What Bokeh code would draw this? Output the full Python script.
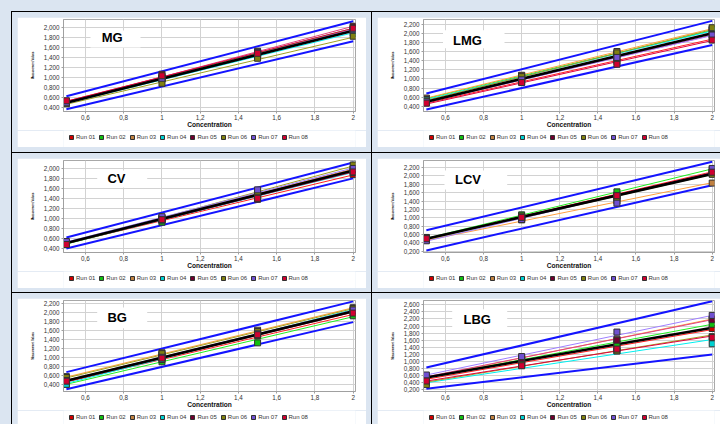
from bokeh.plotting import figure
from bokeh.models import FixedTicker, Legend, LegendItem, Label, Range1d, GridBox, BoxAnnotation
from bokeh.layouts import column
from bokeh.embed import file_html
from bokeh.resources import INLINE

# ---------------- data ----------------
RUNS = ["Run 01", "Run 02", "Run 03", "Run 04", "Run 05", "Run 06", "Run 07", "Run 08"]
CONC = [0.5, 1.0, 1.5, 2.0]
LINE_X = [0.5, 2.0]

X_TICKS = [0.6, 0.8, 1.0, 1.2, 1.4, 1.6, 1.8, 2.0]
X_TICK_LABELS = ["0,6", "0,8", "1", "1,2", "1,4", "1,6", "1,8", "2"]

Y_TICKS_20 = [0.4, 0.6, 0.8, 1.0, 1.2, 1.4, 1.6, 1.8, 2.0]
Y_LABELS_20 = ["0,400", "0,600", "0,800", "1,000", "1,200", "1,400", "1,600", "1,800", "2,000"]
Y_TICKS_22 = [0.4, 0.6, 0.8, 1.0, 1.2, 1.4, 1.6, 1.8, 2.0, 2.2]
Y_LABELS_22 = ["0,400", "0,600", "0,800", "1,000", "1,200", "1,400", "1,600", "1,800", "2,000", "2,200"]
Y_TICKS_LCV = [0.2, 0.4, 0.6, 0.8, 1.0, 1.2, 1.4, 1.6, 1.8, 2.0, 2.2]
Y_LABELS_LCV = ["0,200", "0,400", "0,600", "0,800", "1,000", "1,200", "1,400", "1,600", "1,800", "2,000", "2,200"]
Y_TICKS_LBG = [0.2, 0.4, 0.6, 0.8, 1.0, 1.2, 1.4, 1.6, 1.8, 2.0, 2.2, 2.4, 2.6]
Y_LABELS_LBG = ["0,200", "0,400", "0,600", "0,800", "1,000", "1,200", "1,400", "1,600", "1,800",
                "2,000", "2,200", "2,400", "2,600"]

# MG
MG_POINTS = [[0.52, 1.06, 1.47, 2.02], [0.50, 0.99, 1.47, 1.97], [0.50, 0.97, 1.52, 1.93],
             [0.48, 0.96, 1.43, 1.88], [0.51, 1.00, 1.50, 2.00], [0.47, 0.88, 1.38, 1.82],
             [0.49, 0.98, 1.50, 1.95], [0.53, 1.03, 1.48, 1.98]]
MG_FITS = [[0.52, 1.96], [0.49, 1.98], [0.49, 1.95], [0.48, 1.89],
           [0.50, 2.02], [0.46, 1.80], [0.48, 1.96], [0.52, 1.98]]
MG_MEAN = [0.49, 1.93]
MG_UPPER = [0.62, 2.12]
MG_LOWER = [0.36, 1.72]

# LMG
LMG_POINTS = [[0.48, 0.93, 1.38, 1.86], [0.57, 1.07, 1.55, 2.07], [0.58, 1.08, 1.60, 2.10],
              [0.55, 1.03, 1.53, 2.08], [0.50, 0.97, 1.45, 1.97], [0.52, 1.05, 1.57, 2.12],
              [0.50, 0.98, 1.47, 1.96], [0.47, 0.92, 1.32, 1.85]]
LMG_FITS = [[0.47, 1.87], [0.57, 2.06], [0.58, 2.10], [0.55, 2.05],
            [0.49, 1.96], [0.53, 2.08], [0.49, 1.95], [0.45, 1.84]]
LMG_MEAN = [0.50, 2.00]
LMG_UPPER = [0.68, 2.27]
LMG_LOWER = [0.33, 1.74]

# CV
CV_POINTS = [[0.48, 0.95, 1.38, 1.88], [0.50, 0.92, 1.45, 1.95], [0.52, 0.98, 1.50, 1.99],
             [0.49, 0.96, 1.44, 1.92], [0.51, 1.00, 1.48, 1.97], [0.50, 1.01, 1.53, 2.07],
             [0.53, 1.03, 1.57, 2.00], [0.47, 0.97, 1.40, 1.93]]
CV_FITS = [[0.49, 1.87], [0.48, 1.95], [0.50, 1.99], [0.49, 1.92],
           [0.50, 1.97], [0.49, 2.05], [0.52, 2.01], [0.49, 1.93]]
CV_MEAN = [0.50, 1.96]
CV_UPPER = [0.61, 2.12]
CV_LOWER = [0.39, 1.80]

# LCV
LCV_POINTS = [[0.52, 1.00, 1.55, 2.10], [0.50, 1.07, 1.62, 2.16], [0.47, 0.95, 1.40, 1.83],
              [0.49, 1.02, 1.52, 2.08], [0.53, 0.98, 1.50, 2.05], [0.48, 1.04, 1.47, 2.04],
              [0.45, 0.96, 1.35, 2.18], [0.50, 1.01, 1.53, 2.09]]
LCV_FITS = [[0.50, 2.10], [0.51, 2.17], [0.46, 1.84], [0.49, 2.06],
            [0.50, 2.05], [0.48, 2.04], [0.44, 2.08], [0.50, 2.08]]
LCV_MEAN = [0.50, 2.05]
LCV_UPPER = [0.70, 2.34]
LCV_LOWER = [0.22, 1.78]

# BG
BG_POINTS = [[0.46, 1.00, 1.48, 1.94], [0.40, 0.90, 1.32, 1.92], [0.57, 1.10, 1.60, 2.10],
             [0.40, 0.95, 1.50, 2.05], [0.50, 1.05, 1.55, 2.02], [0.55, 1.08, 1.57, 2.08],
             [0.48, 1.00, 1.52, 2.05], [0.47, 0.98, 1.50, 1.98]]
BG_FITS = [[0.45, 1.95], [0.40, 1.90], [0.56, 2.10], [0.42, 2.06],
           [0.49, 2.03], [0.54, 2.08], [0.48, 2.04], [0.47, 2.00]]
BG_MEAN = [0.48, 2.02]
BG_UPPER = [0.67, 2.24]
BG_LOWER = [0.29, 1.78]

# LBG
LBG_POINTS = [[0.50, 0.95, 1.40, 1.93], [0.55, 1.05, 1.50, 2.05], [0.55, 1.10, 1.63, 2.20],
              [0.40, 0.90, 1.30, 1.50], [0.58, 1.08, 1.60, 2.18], [0.35, 0.92, 1.30, 1.70],
              [0.62, 1.14, 1.83, 2.30], [0.45, 0.88, 1.35, 1.68]]
LBG_FITS = [[0.50, 1.90], [0.55, 2.05], [0.55, 2.20], [0.40, 1.62],
            [0.57, 2.18], [0.42, 1.75], [0.62, 2.30], [0.45, 1.72]]
LBG_MEAN = [0.55, 1.95]
LBG_UPPER = [0.83, 2.70]
LBG_LOWER = [0.235, 1.20]

# ---------------- style ----------------
BG_BLUE = "#dbe5f1"
FONT = "Liberation Sans"
LINE_COLORS = ["#ff2020", "#22ee22", "#ffa040", "#00f0f0", "#e04080", "#a0a020", "#a080ff", "#e00040"]
MARK_COLORS = ["#d00000", "#10c010", "#c08040", "#00d0d0", "#700030", "#808010", "#7050d0", "#d00030"]
X_LO, X_HI = 0.485, 2.012


def make_plot(title, points, fits, mean, upper, lower, y_lo, y_hi, y_ticks, y_labels,
              width, height, right_b, frame_h, box, text_xy):
    p = figure(width=width, height=height, output_backend="svg", toolbar_location=None,
               x_range=Range1d(X_LO, X_HI), y_range=Range1d(y_lo, y_hi),
               min_border_left=46, min_border_right=right_b, min_border_top=2,
               min_border_bottom=height - 2 - frame_h)
    p.border_fill_color = "white"
    p.background_fill_color = "white"
    p.outline_line_color = "#a8a8a8"

    for ax in (p.xaxis[0], p.yaxis[0]):
        ax.axis_line_color = "#a0a0a0"
        ax.major_tick_line_color = "#a0a0a0"
        ax.minor_tick_line_color = None
        ax.major_tick_in = 0
        ax.major_tick_out = 2
        ax.major_label_text_font = FONT
        ax.major_label_text_font_size = "6.3px"
        ax.major_label_text_color = "#333333"
        ax.axis_label_text_font = FONT
        ax.axis_label_text_font_style = "bold"
        ax.axis_label_text_color = "#111111"

    p.xaxis.ticker = FixedTicker(ticks=X_TICKS)
    p.xaxis.major_label_overrides = dict(zip(X_TICKS, X_TICK_LABELS))
    p.xaxis.major_label_standoff = 1
    p.xaxis.axis_label = "Concentration"
    p.xaxis.axis_label_text_font_size = "6.6px"
    p.xaxis.axis_label_standoff = -2

    p.yaxis.ticker = FixedTicker(ticks=y_ticks)
    p.yaxis.major_label_overrides = dict(zip(y_ticks, y_labels))
    p.yaxis.major_label_standoff = 2
    p.yaxis.axis_label = "Measurement Values"
    p.yaxis.axis_label_text_font_size = "2.8px"
    p.yaxis.axis_label_standoff = 7

    p.xgrid.ticker = FixedTicker(ticks=X_TICKS)
    p.ygrid.ticker = FixedTicker(ticks=y_ticks)
    p.xgrid.grid_line_color = "#d2d2d2"
    p.ygrid.grid_line_color = "#d2d2d2"

    for i in range(len(RUNS)):
        p.line(LINE_X, fits[i], line_color=LINE_COLORS[i], line_width=1)
    p.line(LINE_X, mean, line_color="black", line_width=2.6)
    p.line(LINE_X, upper, line_color="#1414ff", line_width=2)
    p.line(LINE_X, lower, line_color="#1414ff", line_width=2)
    for i in range(len(RUNS)):
        p.scatter(CONC, points[i], marker="square", size=6,
                  fill_color=MARK_COLORS[i], line_color="#303030", line_width=1)

    # white title box (frame-relative screen units: y measured from frame bottom)
    bl, br, bt, bb = box
    p.add_layout(BoxAnnotation(left=bl, right=br, top=frame_h - bt, bottom=frame_h - bb,
                               left_units="screen", right_units="screen",
                               top_units="screen", bottom_units="screen",
                               fill_color="white", fill_alpha=1.0, line_alpha=0))
    p.add_layout(Label(x=text_xy[0], y=frame_h - text_xy[1], x_units="screen", y_units="screen",
                       text=title, text_font=FONT, text_font_style="bold",
                       text_font_size="13px", text_color="black",
                       text_align="center", text_baseline="middle"))
    return p


def make_legend(points, width, height, y_off):
    # legend strip below each chart; its renderers sit outside the strip's visible range
    lf = figure(width=width, height=height, output_backend="svg", toolbar_location=None,
                x_range=Range1d(10, 11), y_range=Range1d(10, 11),
                x_axis_location=None, y_axis_location=None,
                min_border_left=0, min_border_right=0, min_border_top=0, min_border_bottom=0)
    lf.grid.visible = False
    lf.outline_line_color = None
    lf.border_fill_color = "white"
    lf.background_fill_color = "white"
    items = []
    for i in range(len(RUNS)):
        r = lf.scatter(CONC, points[i], marker="square", size=6,
                       fill_color=MARK_COLORS[i], line_color="#303030", line_width=1)
        items.append(LegendItem(label=RUNS[i], renderers=[r]))
    leg = Legend(items=items, orientation="horizontal", location=(3, y_off),
                 glyph_width=10, glyph_height=10, label_standoff=0, spacing=1,
                 padding=0, margin=0, label_height=6, label_width=6,
                 label_text_font=FONT, label_text_font_size="6px", label_text_color="#333333",
                 border_line_alpha=0, background_fill_alpha=0)
    lf.add_layout(leg, "center")
    return lf


p_mg = make_plot("MG", MG_POINTS, MG_FITS, MG_MEAN, MG_UPPER, MG_LOWER, 0.316, 2.155,
                 Y_TICKS_20, Y_LABELS_20, 349, 113, 11, 95,
                 (27, 77, 14, 31), (48.7, 21))
p_lmg = make_plot("LMG", LMG_POINTS, LMG_FITS, LMG_MEAN, LMG_UPPER, LMG_LOWER, 0.287, 2.30,
                  Y_TICKS_22, Y_LABELS_22, 343, 113, 6, 95,
                  (19.5, 81, 13.7, 31.7), (44, 24))
p_cv = make_plot("CV", CV_POINTS, CV_FITS, CV_MEAN, CV_UPPER, CV_LOWER, 0.31, 2.16,
                 Y_TICKS_20, Y_LABELS_20, 349, 113, 11, 95,
                 (33.7, 83.7, 13, 30), (53, 21.3))
p_lcv = make_plot("LCV", LCV_POINTS, LCV_FITS, LCV_MEAN, LCV_UPPER, LCV_LOWER, 0.17, 2.37,
                  Y_TICKS_LCV, Y_LABELS_LCV, 343, 113, 6, 95,
                  (21, 83.7, 13, 32), (44.5, 22.3))
p_bg = make_plot("BG", BG_POINTS, BG_FITS, BG_MEAN, BG_UPPER, BG_LOWER, 0.24, 2.26,
                 Y_TICKS_22, Y_LABELS_22, 349, 112, 11, 94,
                 (33.7, 83.7, 10, 30.7), (53.7, 20))
p_lbg = make_plot("LBG", LBG_POINTS, LBG_FITS, LBG_MEAN, LBG_UPPER, LBG_LOWER, 0.155, 2.72,
                  Y_TICKS_LBG, Y_LABELS_LBG, 343, 112, 6, 94,
                  (28.7, 83.7, 11.7, 31.7), (53.7, 21.7))


def cell(fig, leg, pad):
    return column(fig, leg, styles={"background-color": BG_BLUE, "padding": pad})


grid = GridBox(children=[
    (cell(p_mg, make_legend(MG_POINTS, 349, 17, 5), "5px 5px 5px 5px"), 0, 0),
    (cell(p_lmg, make_legend(LMG_POINTS, 343, 17, 5), "5px 0px 5px 5px"), 0, 1),
    (cell(p_cv, make_legend(CV_POINTS, 349, 17, 5), "5px 5px 4px 5px"), 1, 0),
    (cell(p_lcv, make_legend(LCV_POINTS, 343, 17, 5), "5px 0px 4px 5px"), 1, 1),
    (cell(p_bg, make_legend(BG_POINTS, 349, 14, 2), "5px 5px 0px 5px"), 2, 0),
    (cell(p_lbg, make_legend(LBG_POINTS, 343, 14, 2), "5px 0px 0px 5px"), 2, 1),
], spacing=1, styles={"background-color": "black", "padding": "1px 0px 0px 1px"})

page = column(grid, styles={"background-color": BG_BLUE, "padding": "11px 0px 0px 11px"})

open("out.html", "w").write(file_html(page, INLINE))
